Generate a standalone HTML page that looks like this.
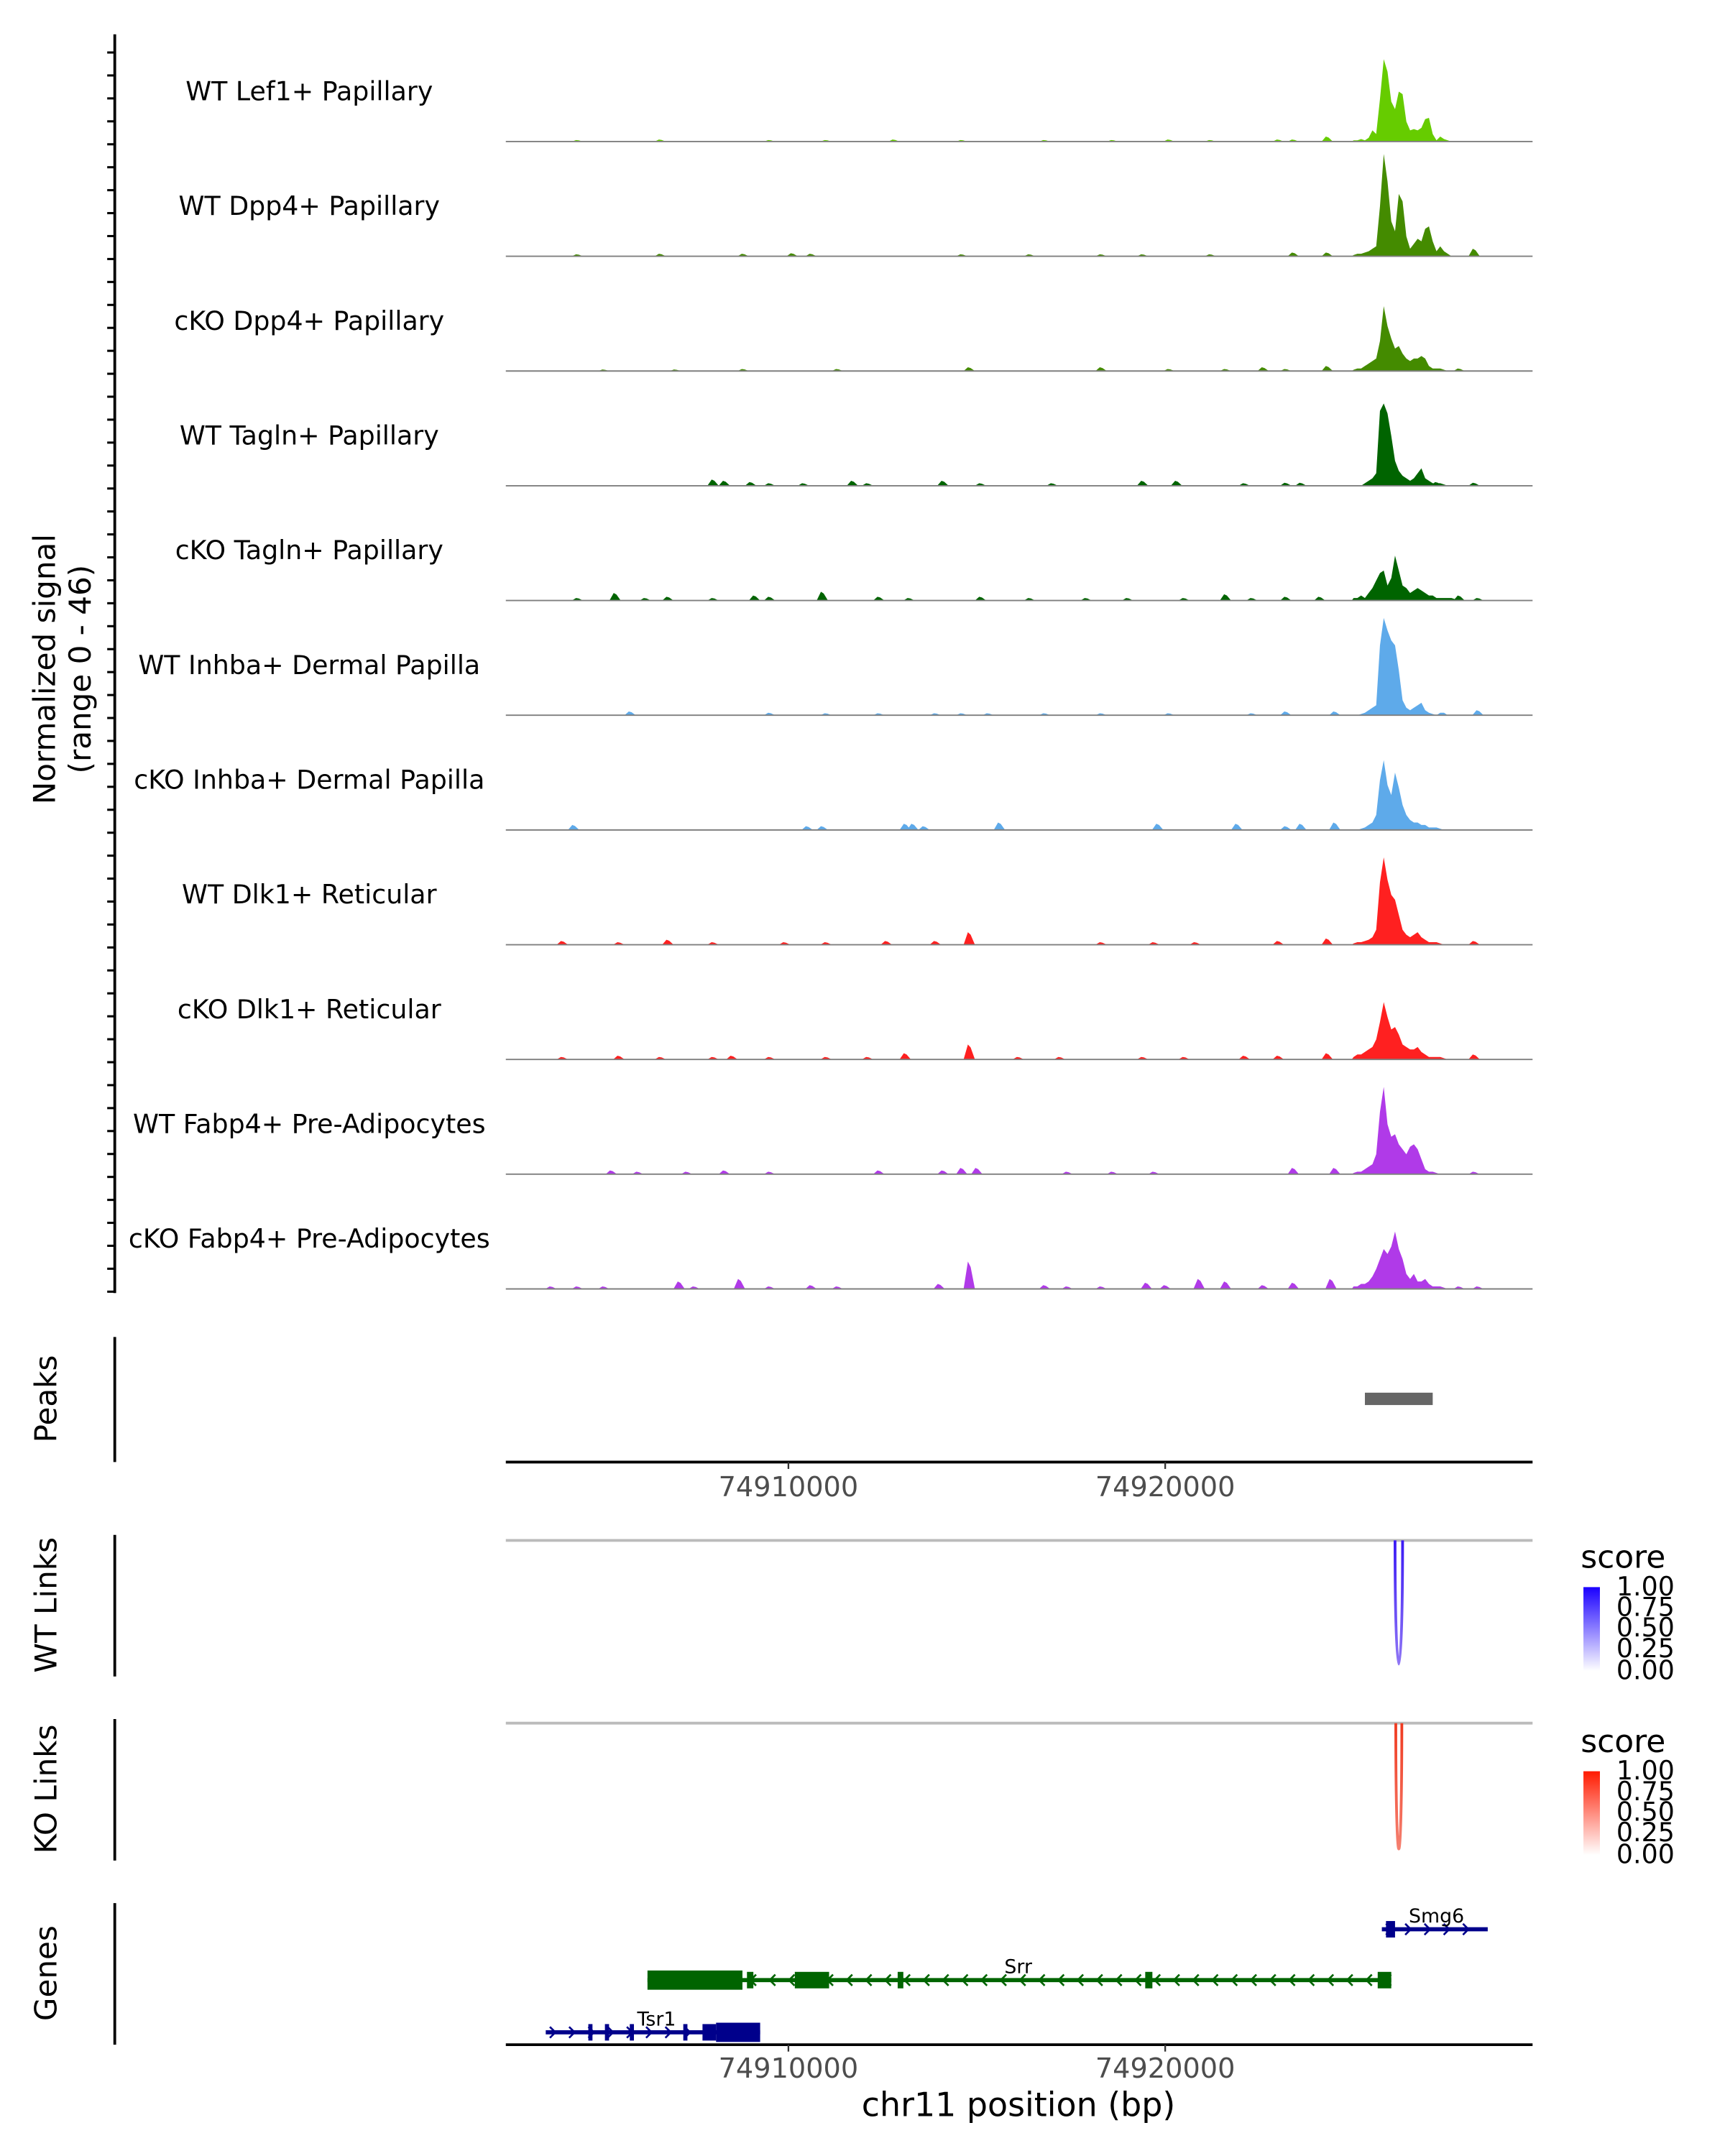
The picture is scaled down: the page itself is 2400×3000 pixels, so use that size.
<!DOCTYPE html>
<html><head><meta charset="utf-8"><style>
html,body{margin:0;padding:0;background:#fff}
svg{display:block}
text{font-family:"DejaVu Sans","Liberation Sans",sans-serif}
</style></head><body>
<svg id="chart" width="2400" height="3000" viewBox="0 0 1255 1569" preserveAspectRatio="none" xmlns="http://www.w3.org/2000/svg">
<defs>
<linearGradient id="gWT" x1="0" y1="0" x2="0" y2="1"><stop offset="0" stop-color="#1a00ff"/><stop offset="1" stop-color="#ffffff"/></linearGradient>
<linearGradient id="gKO" x1="0" y1="0" x2="0" y2="1"><stop offset="0" stop-color="#ff1a00"/><stop offset="1" stop-color="#ffffff"/></linearGradient>
<linearGradient id="arcWT" x1="0" y1="0" x2="0" y2="1"><stop offset="0" stop-color="#3a1af5"/><stop offset="1" stop-color="#8f76f5"/></linearGradient>
<linearGradient id="arcKO" x1="0" y1="0" x2="0" y2="1"><stop offset="0" stop-color="#f03a20"/><stop offset="1" stop-color="#f58070"/></linearGradient>
</defs>
<g id="static">
<text transform="translate(40,487) rotate(-90)" font-size="22" text-anchor="middle">Normalized signal</text>
<text transform="translate(66,487) rotate(-90)" font-size="22" text-anchor="middle">(range 0 - 46)</text>
<line x1="83.5" y1="25" x2="83.5" y2="941" stroke="#000" stroke-width="2"/>
<text transform="translate(41,1018) rotate(-90)" font-size="22" text-anchor="middle">Peaks</text>
<line x1="83.5" y1="973" x2="83.5" y2="1064" stroke="#000" stroke-width="2"/>
<line x1="368" y1="1064" x2="1115" y2="1064" stroke="#000" stroke-width="2"/>
<text transform="translate(41,1168) rotate(-90)" font-size="22" text-anchor="middle">WT Links</text>
<line x1="83.5" y1="1117" x2="83.5" y2="1220" stroke="#000" stroke-width="2"/>
<line x1="368" y1="1121" x2="1115" y2="1121" stroke="#bbb" stroke-width="2"/>
<text transform="translate(41,1302) rotate(-90)" font-size="22" text-anchor="middle">KO Links</text>
<line x1="83.5" y1="1251" x2="83.5" y2="1354" stroke="#000" stroke-width="2"/>
<line x1="368" y1="1254" x2="1115" y2="1254" stroke="#bbb" stroke-width="2"/>
<text transform="translate(41,1436) rotate(-90)" font-size="22" text-anchor="middle">Genes</text>
<line x1="83.5" y1="1385" x2="83.5" y2="1488" stroke="#000" stroke-width="2"/>
<line x1="368" y1="1488" x2="1115" y2="1488" stroke="#000" stroke-width="2"/>
<text x="741" y="1540" font-size="24" text-anchor="middle">chr11 position (bp)</text>
<g>
<text x="1150" y="1141" font-size="23">score</text>
<rect x="1152" y="1155" width="12" height="61" fill="url(#gWT)"/>
<text x="1176" y="1161" font-size="19">1.00</text><text x="1176" y="1176" font-size="19">0.75</text><text x="1176" y="1191" font-size="19">0.50</text><text x="1176" y="1206" font-size="19">0.25</text><text x="1176" y="1222" font-size="19">0.00</text>
</g>
<g>
<text x="1150" y="1275" font-size="23">score</text>
<rect x="1152" y="1289" width="12" height="61" fill="url(#gKO)"/>
<text x="1176" y="1295" font-size="19">1.00</text><text x="1176" y="1310" font-size="19">0.75</text><text x="1176" y="1325" font-size="19">0.50</text><text x="1176" y="1340" font-size="19">0.25</text><text x="1176" y="1356" font-size="19">0.00</text>
</g>
</g>
<g id="dyn"></g>
</svg>
<script>
const NS="http://www.w3.org/2000/svg";
// genomic range (kb)
const xDomain=[74902.5,74929.75];
const tickValues=[74910,74920];
const tickLabels=["74910000","74920000"];
const yMax=46;
const trackNames=["WT Lef1+ Papillary","WT Dpp4+ Papillary","cKO Dpp4+ Papillary","WT Tagln+ Papillary","cKO Tagln+ Papillary","WT Inhba+ Dermal Papilla","cKO Inhba+ Dermal Papilla","WT Dlk1+ Reticular","cKO Dlk1+ Reticular","WT Fabp4+ Pre-Adipocytes","cKO Fabp4+ Pre-Adipocytes"];
const trackColors=["#66cc00","#448b00","#448b00","#006400","#006400","#5eaaea","#5eaaea","#ff2020","#ff2020","#b03ae8","#b03ae8"];
const peakStart=74925.0, peakStep=0.1;
const peakLef1=[0.5,0.5,1,0.5,1.5,4.5,3,17,33,28,16,13,20,19,8,4.5,5,4.5,5.5,9,9.5,3,0.5,2,1,0.5,0,0,0,0];
const peakDpp4WT=[0.5,1,1,1.5,2,3,4,20,41,30,14,10,25,22,8,3,5,7,6,11,12,6,2,4,2,1,0,0,0,0];
const peakDpp4KO=[0.5,1,1,2,3,4,5,12,26,18,13,9,10,7,5,4,5,5,6,5,2,1,1,1,0.5,0,0,0,0,0];
const peakTaglnWT=[0,0,0,1,2,3,5,30,33,29,20,10,6,4,3,2,3,5,7,3,2,1,1,1,0.5,0,0,0,0,0];
const peakTaglnKO=[1,1,2,1,3,5,8,11,12,6,9,18,12,6,5,3,4,5,4,3,2,2,1,1,1,1,1,0.5,0,0];
const peakInhbaWT=[0,0,0.5,1,2,3,4,28,39,34,30,28,18,6,3,2,3,4,5,2,1,0.5,0,1,1,0,0,0,0,0];
const peakInhbaKO=[0,0,0.5,1,2,3,6,20,28,18,14,23,17,10,6,4,3,3,2,2,1,1,1,0.5,0,0,0,0,0,0];
const peakDlk1WT=[0.5,1,1,1.5,2,3,6,25,35,26,20,18,12,6,4,3,4,5,3,2,1,1,1,0.5,0,0,0,0,0,0];
const peakDlk1KO=[1,2,2,3,4,5,8,15,23,17,12,13,10,6,5,4,4,5,3,2,1,1,1,1,0.5,0,0,0,0,0];
const peakFabp4WT=[0.5,1,1,2,3,4,8,25,35,20,15,16,12,10,8,11,12,10,6,2,1,1,0.5,0,0,0,0,0,0,0];
const peakFabp4KO=[1,1,2,2,3,5,8,12,16,14,17,23,16,12,6,4,6,3,3,4,2,1,1,1,0.5,0,0,0,0,0];
const peaks=[peakLef1,peakDpp4WT,peakDpp4KO,peakTaglnWT,peakTaglnKO,peakInhbaWT,peakInhbaKO,peakDlk1WT,peakDlk1KO,peakFabp4WT,peakFabp4KO];
// background bumps: positions (kb) and heights
const bgPosLef1=[74904.4,74906.6,74909.5,74911.0,74912.8,74914.6,74916.8,74918.6,74920.1,74921.2,74923.0,74923.4,74924.3];
const bgValLef1=[0.6,0.8,0.6,0.6,0.8,0.6,0.6,0.6,0.8,0.6,0.8,0.8,2];
const bgPosDpp4WT=[74904.4,74906.6,74908.8,74910.1,74910.6,74914.6,74916.4,74918.3,74919.4,74921.2,74923.4,74924.3,74928.2];
const bgValDpp4WT=[0.8,1,1,1.2,1,0.8,0.8,0.8,0.8,0.8,1.5,1.5,3];
const bgPosDpp4KO=[74905.1,74907.0,74908.8,74911.3,74914.8,74918.3,74920.1,74921.6,74922.6,74923.2,74924.3,74927.8];
const bgValDpp4KO=[0.6,0.6,0.8,0.8,1.5,1.5,0.8,0.8,1.5,0.8,2,1];
const bgPosTaglnWT=[74908.0,74908.3,74909.0,74909.5,74910.4,74911.7,74912.1,74914.1,74915.1,74917.0,74919.4,74920.3,74922.1,74923.2,74923.6,74927.2,74928.2];
const bgValTaglnWT=[2.5,2,1.5,1,1,2,1,2,1,1,2,2,1,1.2,1.2,1.5,1.2];
const bgPosTaglnKO=[74904.4,74905.4,74906.2,74906.8,74908.0,74909.1,74909.5,74910.9,74912.4,74913.2,74915.1,74916.4,74917.9,74919.0,74920.5,74921.6,74922.3,74923.2,74924.1,74927.8,74928.3];
const bgValTaglnKO=[1,3,1,1.5,1,2,1.5,3.5,1.5,1,1.5,1,1,1,1,2.5,1,1.5,1.5,2,1];
const bgPosInhbaWT=[74905.8,74909.5,74911.0,74912.4,74913.9,74914.6,74915.3,74916.8,74918.3,74920.1,74922.3,74923.2,74924.5,74928.3];
const bgValInhbaWT=[1.5,1,0.8,0.8,0.8,0.8,0.8,0.8,0.8,0.8,0.8,1.5,1.5,2];
const bgPosInhbaKO=[74904.3,74910.5,74910.9,74913.1,74913.3,74913.6,74915.6,74919.8,74921.9,74923.2,74923.6,74924.5];
const bgValInhbaKO=[2,1.5,1.5,2.5,2.5,1.5,3,2.5,2.5,1.5,2.5,3];
const bgPosDlk1WT=[74904.0,74905.5,74906.8,74908.0,74909.9,74911.0,74912.6,74913.9,74914.8,74918.3,74919.7,74920.8,74923.0,74924.3,74928.2];
const bgValDlk1WT=[1.5,1,2,1,1,1,1.5,1.5,5,1,1,1,1.5,2.5,1.5];
const bgPosDlk1KO=[74904.0,74905.5,74906.6,74908.0,74908.5,74909.5,74911.0,74912.1,74913.1,74914.8,74916.1,74917.2,74919.4,74920.5,74922.1,74923.0,74924.3,74928.2];
const bgValDlk1KO=[1,1.5,1,1,1.5,1,1,1,2.5,6,1,1,1,1,1.5,1.5,2.5,2];
const bgPosFabp4WT=[74905.3,74906.0,74907.3,74908.3,74909.5,74912.4,74914.1,74914.6,74915.0,74917.4,74918.6,74919.7,74923.4,74924.5,74928.2];
const bgValFabp4WT=[1.5,1,1,1.5,1,1.5,1.5,2.5,2.5,1,1,1,2.5,2.5,1];
const bgPosFabp4KO=[74903.7,74904.4,74905.1,74907.1,74907.5,74908.7,74909.5,74910.6,74911.3,74914.0,74914.8,74916.8,74917.4,74918.3,74919.5,74920.0,74920.9,74921.6,74922.6,74923.4,74924.4,74927.8,74928.3];
const bgValFabp4KO=[1,1,1,3,1,4,1,1.5,1,2,11,1.5,1,1,2.5,1.5,4,3,1.5,2.5,4,1,1];
const bgPos=[bgPosLef1,bgPosDpp4WT,bgPosDpp4KO,bgPosTaglnWT,bgPosTaglnKO,bgPosInhbaWT,bgPosInhbaKO,bgPosDlk1WT,bgPosDlk1KO,bgPosFabp4WT,bgPosFabp4KO];
const bgVal=[bgValLef1,bgValDpp4WT,bgValDpp4KO,bgValTaglnWT,bgValTaglnKO,bgValInhbaWT,bgValInhbaKO,bgValDlk1WT,bgValDlk1KO,bgValFabp4WT,bgValFabp4KO];
// peaks & links (kb)
const peakRegions=[[74925.3,74927.1]];
const wtLinks=[[74926.1,74926.3]];
const wtLinkScores=[1.0];
const koLinks=[[74926.12,74926.28]];
const koLinkScores=[1.0];
// genes (kb)
const geneNames=["Smg6","Srr","Tsr1"];
const geneStrand=[1,-1,1];
const geneSpan=[[74925.75,74928.56],[74906.26,74926.0],[74903.56,74909.25]];
const geneExons=[
 [[74925.86,74926.1]],
 [[74906.26,74908.78],[74908.9,74909.07],[74910.17,74911.08],[74912.9,74913.05],[74919.47,74919.66],[74925.64,74926.0]],
 [[74904.69,74904.8],[74905.13,74905.24],[74905.79,74905.9],[74907.21,74907.32],[74907.72,74908.08],[74908.08,74909.25]]
];
const geneColors=["#00008b","#006400","#00008b"];
const geneRowY=[1404,1441,1479];
const geneLabelX=[74927.2,74916.1,74906.5];

const X0=368,X1=1115;
function xs(kb){return X0+(kb-xDomain[0])/(xDomain[1]-xDomain[0])*(X1-X0);}
const base0=103, trackH=83.5;
function ys(v,i){return base0+i*trackH - v/yMax*trackH;}
const dyn=document.getElementById('dyn');
function mk(tag,attrs,parent){const e=document.createElementNS(NS,tag);for(const k in attrs)e.setAttribute(k,attrs[k]);(parent||dyn).appendChild(e);return e;}

for(let y=940;y>=28;y-=trackH/5){
 const t=mk('line',{x1:78,y1:y,x2:83,y2:y,stroke:'#000','stroke-width':1.6});
 
 
}
for(let i=0;i<trackNames.length;i++){
 const b=ys(0,i);
 const g=mk('g',{});
 
 
 const lab=mk('text',{x:225,y:base0+i*trackH-30,'font-size':19,'text-anchor':'middle'},g);
 lab.textContent=trackNames[i];
 
 
 let d='';
 for(let j=0;j<bgPos[i].length;j++){
  const xa=xs(bgPos[i][j]-0.15),xm=xs(bgPos[i][j]),xb=xs(bgPos[i][j]+0.15);
  d+=`M${xa},${b}L${xm-1},${ys(bgVal[i][j],i)}L${xm+1},${ys(bgVal[i][j]*0.8,i)}L${xb},${b}Z`;
 }
 const p=peaks[i];
 d+=`M${xs(peakStart-0.05)},${b}`;
 for(let j=0;j<p.length;j++){
  d+=`L${xs(peakStart+j*peakStep)},${ys(p[j],i)}`;
 }
 d+=`L${xs(peakStart+(p.length-1)*peakStep+0.05)},${b}Z`;
 const area=mk('path',{d:d,fill:trackColors[i]},g);
 
 
 const bl=mk('line',{x1:X0,y1:b,x2:X1,y2:b,stroke:'#7f7f7f','stroke-width':1},g);
 
 
}
for(const r of peakRegions){
 const e=mk('rect',{x:xs(r[0]),y:1013.5,width:xs(r[1])-xs(r[0]),height:9,fill:'#666'});
 
 
}
function axisTicks(yAxis,yLab){
 for(let k=0;k<tickValues.length;k++){
  const x=xs(tickValues[k]);
  const t=mk('line',{x1:x,y1:yAxis,x2:x,y2:yAxis+5,stroke:'#333','stroke-width':1.2});
  
  
  const l=mk('text',{x:x,y:yLab,'font-size':20,fill:'#4d4d4d','text-anchor':'middle'});
  l.textContent=tickLabels[k];
  
  
 }
}
axisTicks(1064,1089);axisTicks(1488,1512);
function drawLinks(arr,scores,top,depth,grad,name){
 for(let k=0;k<arr.length;k++){
  const xa=xs(arr[k][0]),xb=xs(arr[k][1]);
  const bot=top+depth*scores[k];
  const e=mk('path',{d:`M${xa},${top}C${xa},${bot+30} ${xb},${bot+30} ${xb},${top}`,fill:'none',stroke:'url(#'+grad+')','stroke-width':2});
  
  
 }
}
drawLinks(wtLinks,wtLinkScores,1121,90,'arcWT','wt-link-arc');
drawLinks(koLinks,koLinkScores,1254,92,'arcKO','ko-link-arc');
for(let g=0;g<geneNames.length;g++){
 const y=geneRowY[g],c=geneColors[g];
 const grp=mk('g',{});
 
 
 const xa=xs(geneSpan[g][0]),xb=xs(geneSpan[g][1]);
 mk('line',{x1:xa,y1:y,x2:xb,y2:y,stroke:c,'stroke-width':3},grp);
 let d='';
 for(let x=xa+6;x<xb-3;x+=14){
  if(geneStrand[g]>0) d+=`M${x-3},${y-4}L${x+1},${y}L${x-3},${y+4}`;
  else d+=`M${x+3},${y-4}L${x-1},${y}L${x+3},${y+4}`;
 }
 mk('path',{d:d,fill:'none',stroke:c,'stroke-width':1.4},grp);
 for(const ex of geneExons[g]){
  const w=Math.max(xs(ex[1])-xs(ex[0]),3);
  const h=(g===1&&ex===geneExons[1][0])||(g===2&&ex===geneExons[2][5])?14:12;
  mk('rect',{x:xs(ex[0]),y:y-h/2,width:w,height:h,fill:c},grp);
 }
 const t=mk('text',{x:xs(geneLabelX[g]),y:y-5,'font-size':14,'text-anchor':'middle'},grp);
 t.textContent=geneNames[g];
 
 
}
</script>
</body></html>
